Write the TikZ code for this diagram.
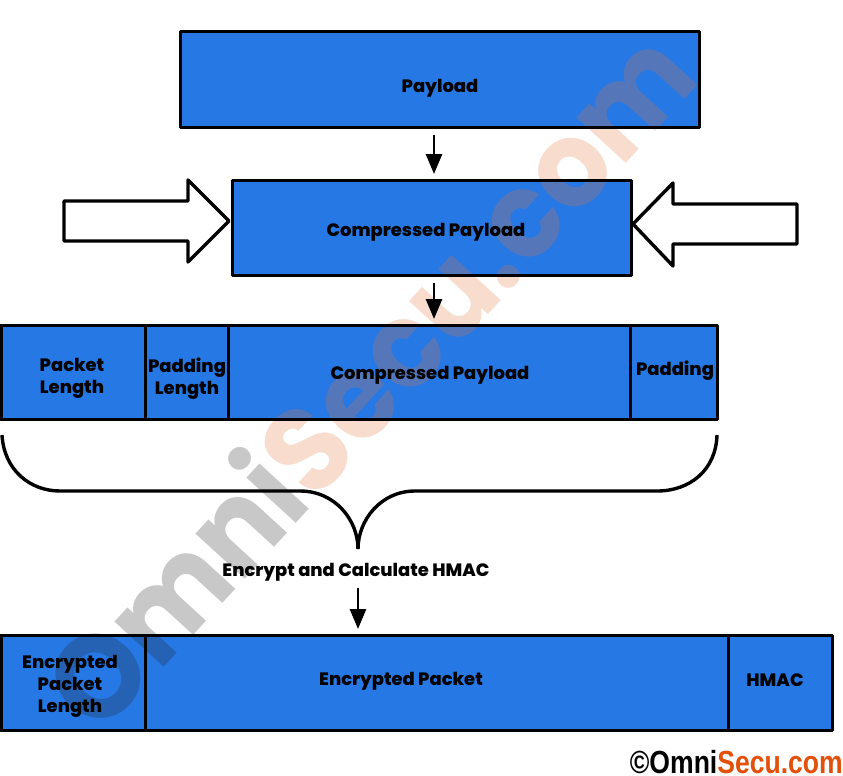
\documentclass[tikz,border=0pt]{standalone}
\usepackage{fontspec}
\setmainfont{Poppins}[BoldFont={Poppins ExtraBold}]
\newfontfamily\markfont{Poppins}
\newfontfamily\copyfont{Liberation Sans}
\usetikzlibrary{arrows.meta,calc}
\pgfdeclarelayer{fillings}
\pgfdeclarelayer{mark}
\pgfsetlayers{fillings,mark,main}
\definecolor{fieldblue}{RGB}{38,120,228}
\definecolor{wmgray}{RGB}{36,36,36}
\definecolor{wmorange}{RGB}{228,116,56}
\definecolor{omniorange}{RGB}{226,80,10}
\tikzset{
  field/.style={draw=black,line width=3pt,line join=round,inner sep=0pt,outer sep=0pt},
  lbl/.style={font=\bfseries\fontsize{17.9}{22}\selectfont,align=center,text=black,inner sep=0pt},
  flow/.style={draw=black,line width=2.8pt,-{Triangle[length=20pt,width=16pt]},shorten <=8pt,shorten >=6pt},
  blockarrow/.style={draw=black,fill=white,line width=3.4pt,line join=round},
  bracecurve/.style={draw=black,line width=3.4pt,line join=round},
  wmtext/.style={font=\markfont\bfseries\fontsize{120}{120}\selectfont,opacity=.25,text opacity=.25,rotate=47.5,xscale=.94,inner sep=0pt}
}
\newcommand{\field}[5]{%
  \begin{pgfonlayer}{fillings}
    \fill[fieldblue] (#2,#3) rectangle (#4,#5);
  \end{pgfonlayer}
  \pgfmathsetmacro{\fw}{#4-#2}\pgfmathsetmacro{\fh}{#5-#3}
  \node[field,minimum width=\fw pt,minimum height=\fh pt] (#1) at ({(#2+#4)/2},{(#3+#5)/2}) {};
}
\begin{document}
\begin{tikzpicture}[x=1pt,y=-1pt]
\useasboundingbox (0,0) rectangle (843,776);
\begin{pgfonlayer}{fillings}
  \fill[white] (0,0) rectangle (843,776);
\end{pgfonlayer}
% boxes
\field{pay}{180}{32}{699}{127}
\field{comp}{232}{180}{631}{275}
\field{plen}{1}{325}{145}{419}
\field{padlen}{145}{325}{228}{419}
\field{cpay}{228}{325}{630}{419}
\field{pad}{630}{325}{717}{419}
\field{eplen}{1}{635}{145}{730}
\field{epack}{145}{635}{728}{730}
\field{hmac}{728}{635}{832}{730}
% watermark
\begin{pgfonlayer}{mark}
  \node[wmtext] (wm) at (366,377) {\textcolor{wmgray}{Omni}\textcolor{wmorange}{Secu.com}};
\end{pgfonlayer}
% block arrows
\draw[blockarrow] (64,201) -- (188,201) -- (188,180) -- (229,221) -- (188,262) -- (188,241) -- (64,241) -- cycle;
\draw[blockarrow] (797,204) -- (673,204) -- (673,183) -- (633,224) -- (673,266) -- (673,244) -- (797,244) -- cycle;
% brace
\draw[bracecurve] (2,435) .. controls (4,470) and (30,491) .. (60,491) -- (300,491) .. controls (335,491) and (358,520) .. (358,549);
\draw[bracecurve] (358,549) .. controls (358,520) and (381,491) .. (415,491) -- (657,491) .. controls (690,491) and (716,470) .. (717,435);
% labels
\node[lbl] (tpay) at (440,88) {Payload};
\node[lbl] (tcomp) at (426,232) {Compressed Payload};
\node[lbl] (tplen) at (72,378) {Packet\\Length};
\node[lbl] (tpadlen) at (187,379) {Padding\\Length};
\node[lbl] (tcpay) at (430,375) {Compressed Payload};
\node[lbl] (tpad) at (675,371) {Padding};
\node[lbl] (tenc) at (356,572) {Encrypt and Calculate HMAC};
\node[lbl] (teplen) at (70,686) {Encrypted\\Packet\\Length};
\node[lbl] (tepack) at (401,681) {Encrypted Packet};
\node[lbl] (thmac) at (775,680) {HMAC};
% flow arrows
\coordinate (c1) at (434,0);
\coordinate (c3) at (358,0);
\draw[flow] (pay.south -| c1) -- (comp.north -| c1);
\draw[flow] (comp.south -| c1) -- (cpay.north -| c1);
\draw[flow,shorten <=7pt] (tenc.south -| c3) -- (epack.north -| c3);
% copyright
\node[inner sep=0pt,anchor=east,font=\copyfont\bfseries\fontsize{32}{32}\selectfont,xscale=.83] (copy) at (843,762) {\textcolor{black}{©Omni}\textcolor{omniorange}{Secu.com}};
\end{tikzpicture}
\end{document}
